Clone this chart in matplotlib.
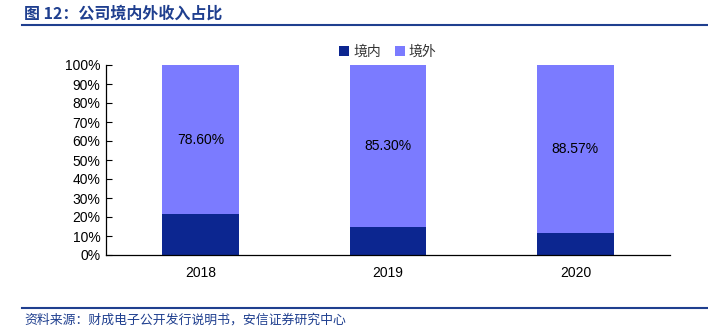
import numpy as np
import matplotlib
matplotlib.use('Agg')
import matplotlib.pyplot as plt
from matplotlib.ticker import FuncFormatter

plt.rcParams['font.family'] = ['Liberation Sans', 'Noto Sans CJK SC', 'DejaVu Sans']

years = ['2018', '2019', '2020']
domestic = [21.40, 14.70, 11.43]
overseas = [78.60, 85.30, 88.57]
series_names = ['境内', '境外']

c_dom = '#0c2690'
c_ovs = '#7b7bff'
c_title = '#1f3f8f'

fig = plt.figure(figsize=(7.08, 3.30), dpi=100)
ax = fig.add_axes([106/708, 1 - 255/330, (670 - 106)/708, (255 - 65)/330])

x = np.arange(len(years))
w = 0.41
ax.bar(x, domestic, w, color=c_dom, label=series_names[0])
ax.bar(x, overseas, w, bottom=domestic, color=c_ovs, label=series_names[1])

# value labels in the middle of the overseas segment
for xi, d, o in zip(x, domestic, overseas):
    ax.text(xi, d + o / 2, f'{o:.2f}%', ha='center', va='center', fontsize=10, color='black')

ax.set_xlim(-0.505, 2.505)
ax.set_ylim(0, 100)
ax.set_yticks(np.arange(0, 101, 10))
ax.yaxis.set_major_formatter(FuncFormatter(lambda v, p: f'{v:.0f}%'))
ax.set_xticks(x)
ax.set_xticklabels(years)
ax.tick_params(axis='y', labelsize=10, length=4, direction='in', pad=4)
ax.tick_params(axis='x', labelsize=10, length=0, pad=8)
for s in ['top', 'right']:
    ax.spines[s].set_visible(False)
for s in ['left', 'bottom']:
    ax.spines[s].set_linewidth(0.9)

leg = ax.legend(loc='lower center', bbox_to_anchor=(0.5, 0.965), ncol=2, frameon=False,
                handlelength=0.7, handleheight=0.7, handletextpad=0.3,
                columnspacing=1.0, prop={'family': ['Noto Sans CJK SC'], 'size': 10})
for t in leg.get_texts():
    t.set_color('#333333')

fig.text(24/708, 1 - 14/330, '图 12：公司境内外收入占比', fontsize=11.5, fontweight='bold',
         color=c_title, va='center', ha='left', family=['Noto Sans CJK SC'])
fig.add_artist(plt.Line2D([22/708, 1], [1 - 25/330, 1 - 25/330], color=c_title, lw=1.5))
fig.add_artist(plt.Line2D([22/708, 1], [1 - 308/330, 1 - 308/330], color=c_title, lw=1.5))
fig.text(24/708, 1 - 320/330, '资料来源：财成电子公开发行说明书，安信证券研究中心', fontsize=9.3,
         style='italic', color=c_title, va='center', ha='left', family=['Noto Sans CJK SC'])

fig.savefig('out.png', dpi=100)
